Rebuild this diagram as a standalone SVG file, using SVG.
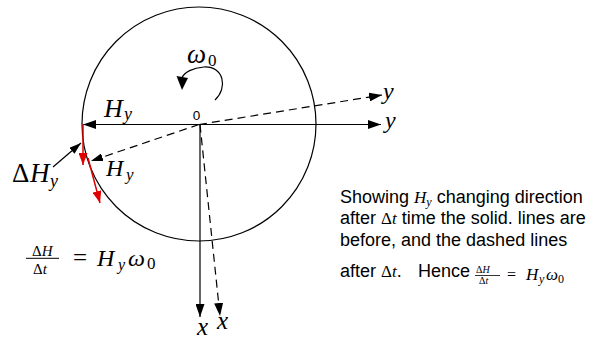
<svg xmlns="http://www.w3.org/2000/svg" width="592" height="339" viewBox="0 0 592 339">
<style>
.ln{stroke:#000;stroke-width:1.2;fill:none}
.ds{stroke:#000;stroke-width:1.2;fill:none;stroke-dasharray:8,5}
.rd{stroke:#e00000;stroke-width:1.5;fill:none}
.sr{font-family:"Liberation Serif","Times New Roman",serif;fill:#000}
.it{font-family:"Liberation Serif","Times New Roman",serif;font-style:italic;fill:#000}
.sn{font-family:"Liberation Sans",Arial,sans-serif;fill:#000}
</style>
<defs>
<marker id="a" markerUnits="userSpaceOnUse" markerWidth="13" markerHeight="9" refX="13" refY="4.5" orient="auto"><path d="M0,0 L13,4.5 L0,9 z" fill="#000"/></marker>
<marker id="as" markerUnits="userSpaceOnUse" markerWidth="12" markerHeight="8" refX="12" refY="4" orient="auto"><path d="M0,0 L12,4 L0,8 z" fill="#000"/></marker>
<marker id="ar" markerUnits="userSpaceOnUse" markerWidth="12" markerHeight="9" refX="12" refY="4.5" orient="auto"><path d="M0,0 L12,4.5 L0,9 z" fill="#e00000"/></marker>
</defs>
<rect width="592" height="339" fill="#fff"/>
<g id="circle"><circle cx="199" cy="124" r="117" class="ln" stroke-width="1"/></g>
<g id="connectors">
<line class="ln" x1="199" y1="124.5" x2="83" y2="124.5" marker-end="url(#a)"/>
<line class="ln" x1="199" y1="124.5" x2="381" y2="124.5" marker-end="url(#a)"/>
<line class="ln" x1="200" y1="124.5" x2="200" y2="317" marker-end="url(#a)"/>
<line class="ds" x1="199" y1="124.5" x2="382" y2="95" marker-end="url(#a)"/>
<line class="ds" x1="200" y1="124.5" x2="220" y2="316" marker-end="url(#a)"/>
<line class="ds" x1="199" y1="124.5" x2="91" y2="161" marker-end="url(#as)"/>
<line class="ln" x1="53" y1="167" x2="81" y2="143" marker-end="url(#as)"/>
<line class="rd" x1="83" y1="124" x2="83" y2="165" marker-end="url(#ar)"/>
<line class="rd" x1="88" y1="158" x2="100" y2="203" marker-end="url(#ar)"/>
<path class="ln" d="M215,100 C228,88 224,66 204,67 C193,68 184,72 182,78" />
<path d="M176.5,76 L188,78 L182,90 z" fill="#000"/>
</g>
<g id="labels">
<text class="it" x="187" y="63" font-size="27">ω</text><text class="sr" x="208" y="66" font-size="17">0</text>
<text class="sn" x="196.5" y="119.5" font-size="13.5" text-anchor="middle">0</text>
<text class="it" x="104" y="117" font-size="26">H</text><text class="it" x="124" y="120" font-size="18">y</text>
<text class="sr" x="12" y="182" font-size="27">Δ</text><text class="it" x="30" y="182" font-size="27">H</text><text class="it" x="50" y="187" font-size="18">y</text>
<text class="it" x="106" y="176" font-size="24">H</text><text class="it" x="126" y="180" font-size="17">y</text>
<text class="it" x="383" y="99" font-size="24">y</text>
<text class="it" x="385" y="128" font-size="24">y</text>
<text class="it" x="197" y="335" font-size="25">x</text>
<text class="it" x="217" y="329" font-size="25">x</text>
</g>
<g id="formula-left">
<text x="32" y="256" font-size="15"><tspan class="sr">Δ</tspan><tspan class="it">H</tspan></text>
<line x1="26" y1="258.3" x2="59" y2="258.3" stroke="#000" stroke-width="1"/>
<text x="33" y="274" font-size="15"><tspan class="sr">Δ</tspan><tspan class="it">t</tspan></text>
<text class="sr" x="73" y="266" font-size="25">=</text>
<text class="it" x="97" y="266" font-size="24">H</text><text class="it" x="118" y="270" font-size="16">y</text>
<text class="it" x="128" y="266" font-size="24">ω</text><text class="sr" x="147" y="269" font-size="17">0</text>
</g>
<g id="caption">
<text x="340" y="203" font-size="18"><tspan class="sn">Showing </tspan><tspan class="it" font-size="17">H</tspan><tspan class="it" font-size="12" dy="3">y</tspan><tspan class="sn" dy="-3"> changing direction</tspan></text>
<text x="340" y="224" font-size="18"><tspan class="sn">after </tspan><tspan class="sr" font-size="17">Δ</tspan><tspan class="it" font-size="17">t</tspan><tspan class="sn"> time the solid. lines are</tspan></text>
<text class="sn" x="340" y="246" font-size="18">before, and the dashed lines</text>
<text x="340" y="277" font-size="18"><tspan class="sn">after </tspan><tspan class="sr" font-size="17">Δ</tspan><tspan class="it" font-size="17">t</tspan><tspan class="sn">.</tspan></text>
<text class="sn" x="418" y="277" font-size="18">Hence</text>
<text x="476" y="273" font-size="10"><tspan class="sr">Δ</tspan><tspan class="it">H</tspan></text>
<line x1="475" y1="275.5" x2="500" y2="275.5" stroke="#000" stroke-width="0.8"/>
<text x="479" y="284" font-size="10"><tspan class="sr">Δ</tspan><tspan class="it">t</tspan></text>
<text class="sr" x="507" y="280" font-size="16">=</text>
<text class="it" x="526" y="280" font-size="17">H</text><text class="it" x="539" y="283" font-size="12">y</text>
<text class="it" x="546" y="280" font-size="17">ω</text><text class="sr" x="558" y="283" font-size="12">0</text>
</g>
</svg>
